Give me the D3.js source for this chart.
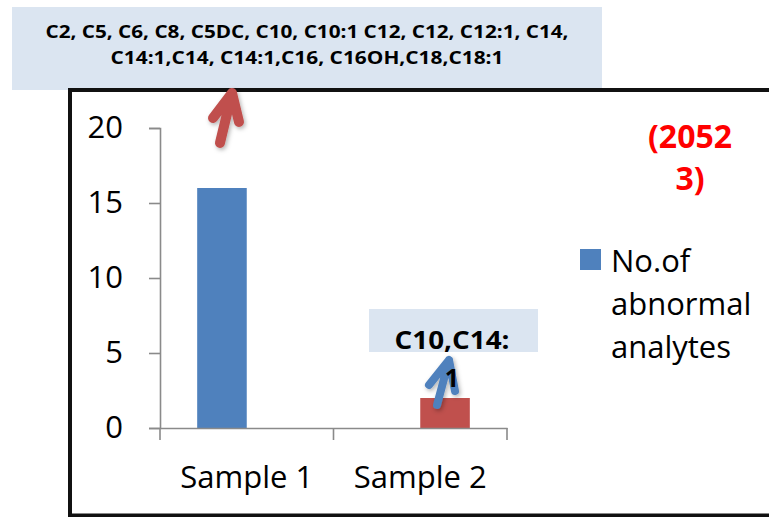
<!DOCTYPE html>
<html>
<head>
<meta charset="utf-8">
<script src="https://cdn.jsdelivr.net/npm/d3@7"></script>
<style>
  html, body { margin: 0; padding: 0; background: #fff; }
  svg { display: block; }
  text { font-family: "Open Sans", "DejaVu Sans", sans-serif; }
</style>
</head>
<body>
<svg id="chart" width="769" height="517"></svg>
<script>
// ---- data ----
const categories = ["Sample 1", "Sample 2"];
const abnormalCounts = [16, 0];      // blue series ("No.of abnormal analytes")
const secondCounts = [0, 2];         // red series
const seriesNames = ["No.of abnormal analytes", ""];
const yTicks = [0, 5, 10, 15, 20];
const legendLines = ["No.of", "abnormal", "analytes"];
const topNote = ["C2, C5, C6, C8, C5DC, C10, C10:1 C12, C12, C12:1, C14,",
                 "C14:1,C14, C14:1,C16, C16OH,C18,C18:1"];
const sample2Note = ["C10,C14:", "1"];
const redNote = ["(2052", "3)"];
const colors = ["#4f81bd", "#c0504d"];

// ---- layout ----
const svg = d3.select("#chart");
const plot = { left: 160, right: 507, top: 128, bottom: 428 };

const defs = svg.append("defs");
const sh = defs.append("filter").attr("id", "shadow")
  .attr("x", "-50%").attr("y", "-50%").attr("width", "200%").attr("height", "200%");
sh.append("feDropShadow").attr("dx", 1.5).attr("dy", 2).attr("stdDeviation", 2)
  .attr("flood-color", "#000").attr("flood-opacity", 0.3);

// top annotation box
svg.append("rect").attr("x", 12).attr("y", 7).attr("width", 590).attr("height", 83)
  .attr("fill", "#dbe5f1");
const topWidths = [523, 393];
const topText = svg.append("text").attr("text-anchor", "middle").attr("font-weight", "bold")
  .attr("font-size", 18.5).attr("fill", "#000");
topNote.forEach((t, i) => {
  topText.append("tspan").attr("x", 307).attr("y", 38 + i * 25.5)
    .attr("textLength", topWidths[i]).attr("lengthAdjust", "spacingAndGlyphs")
    .text(t);
});

// frame
svg.append("path")
  .attr("d", "M769,90H70V515.5H769")
  .attr("fill", "none").attr("stroke", "#111").attr("stroke-width", 4);

// scales
const x = d3.scaleBand().domain(categories).range([plot.left, plot.right])
  .paddingInner(0).paddingOuter(0);
const xs = d3.scaleBand().domain([0, 1]).range([0, x.bandwidth()])
  .paddingInner(0).paddingOuter(0.75);
const y = d3.scaleLinear().domain([0, 20]).range([plot.bottom, plot.top]);

const series = [abnormalCounts, secondCounts];

// bars
const g = svg.append("g");
series.forEach((vals, si) => {
  g.selectAll(null).data(vals).enter().append("rect")
    .attr("x", (d, i) => x(categories[i]) + xs(si))
    .attr("y", d => y(d))
    .attr("width", xs.bandwidth())
    .attr("height", d => y(0) - y(d))
    .attr("fill", colors[si]);
});

// y axis
const axisColor = "#8a8a8a";
const yAxis = svg.append("g").attr("transform", `translate(${plot.left},0)`)
  .call(d3.axisLeft(y).tickValues(yTicks).tickSize(11).tickPadding(26).tickFormat(d3.format("d")));
yAxis.selectAll("path, line").attr("stroke", axisColor).attr("stroke-width", 1.6);
yAxis.selectAll("text").attr("font-size", 31).attr("fill", "#000")
  .attr("font-family", "'Open Sans', sans-serif");

// x axis
const xAxis = svg.append("g").attr("transform", `translate(0,${plot.bottom})`)
  .call(d3.axisBottom(x).tickSize(0).tickPadding(38).tickSizeOuter(0));
xAxis.select(".domain").attr("stroke", axisColor).attr("stroke-width", 1.6);
xAxis.selectAll("text").attr("font-size", 31).attr("fill", "#000")
  .attr("font-family", "'Open Sans', sans-serif");
const bounds = [x(categories[0])].concat(categories.map(c => x(c) + x.bandwidth()));
xAxis.selectAll("line.bound").data(bounds).enter().append("line")
  .attr("class", "bound")
  .attr("x1", d => d).attr("x2", d => d).attr("y1", 0).attr("y2", 12)
  .attr("stroke", axisColor).attr("stroke-width", 1.6);

// red note
const redText = svg.append("text").attr("text-anchor", "middle").attr("font-weight", "bold")
  .attr("font-size", 32).attr("fill", "#ff0000");
redNote.forEach((t, i) => {
  redText.append("tspan").attr("x", 690).attr("y", 148 + i * 42).text(t);
});

// legend
svg.append("rect").attr("x", 580).attr("y", 249).attr("width", 21).attr("height", 21)
  .attr("fill", colors[0]);
const legText = svg.append("text").attr("font-size", 31).attr("fill", "#000");
legendLines.forEach((t, i) => {
  legText.append("tspan").attr("x", 611).attr("y", 272 + i * 43).text(t);
});

// arrows
function arrow(tail, tip, left, right, color, w) {
  svg.append("path")
    .attr("d", `M${tail[0]},${tail[1]}L${tip[0]},${tip[1]}M${left[0]},${left[1]}L${tip[0]},${tip[1]}L${right[0]},${right[1]}`)
    .attr("fill", "none").attr("stroke", color).attr("stroke-width", w)
    .attr("stroke-linecap", "round").attr("stroke-linejoin", "round")
    .attr("filter", "url(#shadow)");
}
const b1x = x(categories[0]) + xs(0) + xs.bandwidth() / 2;
const b2x = x(categories[1]) + xs(1) + xs.bandwidth() / 2;
arrow([b1x - 2, y(abnormalCounts[0]) - 45], [232, 93], [213, 118], [239, 122], colors[1], 10);

// sample 2 note box
svg.append("rect").attr("x", 369).attr("y", 309).attr("width", 169).attr("height", 43)
  .attr("fill", "#dbe5f1");
arrow([b2x - 8, y(secondCounts[1]) + 7], [449, 360], [429, 385], [455, 391], colors[0], 8);
const s2Text = svg.append("text").attr("text-anchor", "middle").attr("font-weight", "bold")
  .attr("font-size", 25).attr("fill", "#000");
sample2Note.forEach((t, i) => {
  const ts = s2Text.append("tspan").attr("x", 452).attr("y", 349 + i * 38).text(t);
  if (i === 0) ts.attr("textLength", 115).attr("lengthAdjust", "spacingAndGlyphs");
});
</script>
</body>
</html>
